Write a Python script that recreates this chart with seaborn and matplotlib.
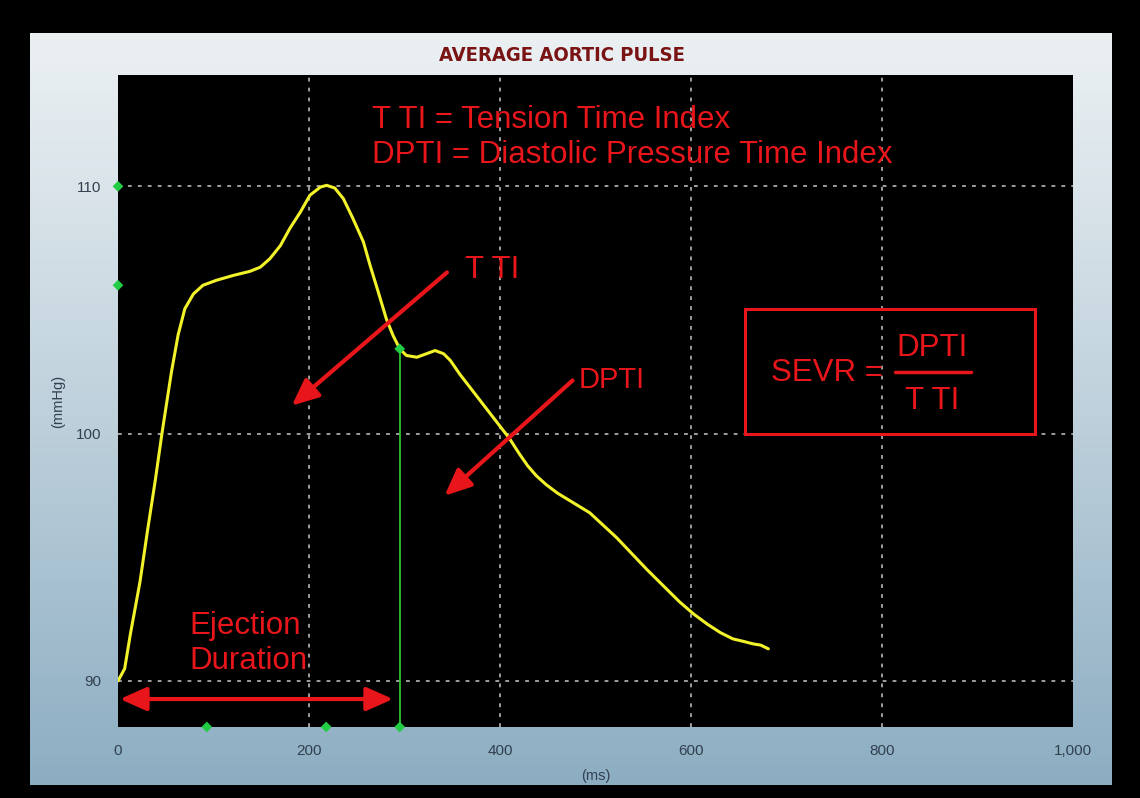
import numpy as np
import pandas as pd
import matplotlib
matplotlib.use('Agg')
import matplotlib.pyplot as plt
from matplotlib.patches import Rectangle
from matplotlib.ticker import FuncFormatter, MultipleLocator
import seaborn as sns

# Average aortic pulse
time_ms = [0, 7, 13, 23, 31, 39, 46, 56, 63, 70, 79, 89, 103, 121, 138, 149,
           159, 170, 180, 191, 201, 212, 218.5, 227, 236, 246, 257, 264,
           272.6, 281, 288, 295, 302, 313, 323, 332, 341, 348, 358, 370, 382,
           396, 410, 420, 429, 438, 448, 460, 477, 494, 508, 522, 538, 554,
           571, 588, 603, 617, 631, 644, 655, 665, 673, 681]
pressure = [90.0, 90.5, 91.9, 94.0, 96.1, 98.1, 100.0, 102.5, 104.0, 105.05,
            105.65, 106.0, 106.2, 106.4, 106.56, 106.73, 107.07, 107.6, 108.3,
            108.96, 109.64, 109.97, 110.04, 109.93, 109.5, 108.7, 107.75,
            106.8, 105.72, 104.64, 103.97, 103.43, 103.16, 103.09, 103.23,
            103.36, 103.23, 102.96, 102.4, 101.8, 101.2, 100.5, 99.8, 99.2,
            98.7, 98.3, 97.95, 97.6, 97.2, 96.8, 96.3, 95.8, 95.15, 94.5,
            93.85, 93.2, 92.7, 92.3, 91.95, 91.7, 91.6, 91.5, 91.45, 91.3]

# green markers on the axes
x_marks = [93, 218, 295]
y_marks = [110, 106]
ejection_end = 295
ejection_end_p = 103.43

x_ticks = [0, 200, 400, 600, 800, 1000]
y_ticks = [90, 100, 110]

RED = '#e8161b'
TICK_COL = '#324050'
Y_BOTTOM = 88.14

sns.set_style('dark')
plt.rcParams['font.family'] = ['Liberation Sans', 'DejaVu Sans']

fig = plt.figure(figsize=(11.4, 7.98), dpi=100, facecolor='black')

# gradient panel behind the plot
bg = fig.add_axes([0.0263, 0.0163, 0.9491, 0.9423], zorder=-2)
grad = np.linspace(0, 1, 256).reshape(-1, 1)
top = np.array([0.92, 0.94, 0.95])
bot = np.array([0.55, 0.68, 0.76])
img = top + (bot - top) * grad[:, :, None] ** 1.1
bg.imshow(img, aspect='auto', extent=[0, 1, 0, 1])
bg.set_axis_off()

ax = fig.add_axes([0.1035, 0.089, 0.8377, 0.817])
ax.set_facecolor('black')

df = pd.DataFrame({'ms': time_ms, 'mmHg': pressure})
sns.lineplot(data=df, x='ms', y='mmHg', ax=ax, color='#f2f22a', linewidth=2.2,
             zorder=4)

# end of ejection
ax.plot([ejection_end, ejection_end], [Y_BOTTOM, ejection_end_p],
        color='#2fc42f', linewidth=1.3, zorder=3)
mk = dict(marker='D', s=30, color='#22cc44', edgecolor='none', zorder=6)
sns.scatterplot(x=x_marks, y=[Y_BOTTOM] * len(x_marks), ax=ax, clip_on=False, **mk)
sns.scatterplot(x=[0] * len(y_marks), y=y_marks, ax=ax, clip_on=False, **mk)
sns.scatterplot(x=[ejection_end], y=[ejection_end_p], ax=ax, **mk)

ax.set_xlim(0, 1000)
ax.set_ylim(Y_BOTTOM, 114.5)
ax.set_xticks(x_ticks)
ax.set_yticks(y_ticks)
ax.xaxis.set_minor_locator(MultipleLocator(100))
ax.yaxis.set_minor_locator(MultipleLocator(5))
ax.xaxis.set_major_formatter(FuncFormatter(lambda v, p: f'{v:,.0f}'))
ax.tick_params(axis='both', which='both', colors='#8a98a4', length=4,
               labelcolor=TICK_COL, labelsize=11, pad=8)
for s in ax.spines.values():
    s.set_visible(False)

# dotted grid
for gx in x_ticks[1:-1]:
    ax.axvline(gx, color='#c8c8c8', linestyle=(0, (2.5, 4)), linewidth=1.1, zorder=1)
for gy in y_ticks:
    ax.axhline(gy, color='#c8c8c8', linestyle=(0, (2.5, 4)), linewidth=1.1, zorder=1)
ax.grid(False)

ax.set_xlabel('(ms)', color=TICK_COL, fontsize=10.5, labelpad=8)
ax.set_ylabel('(mmHg)', color=TICK_COL, fontsize=10.5, labelpad=8)

fig.text(0.493, 0.931, 'AVERAGE AORTIC PULSE', color='#7a1414', fontsize=14.5,
         fontweight='bold', fontstretch='condensed', ha='center', va='center',
         family=['DejaVu Sans'])

# red annotations
fs = 22.5
ax.text(266, 112.67, 'T TI = Tension Time Index', color=RED, fontsize=fs,
        va='center', ha='left', zorder=5)
ax.text(266, 111.26, 'DPTI = Diastolic Pressure Time Index', color=RED,
        fontsize=fs, va='center', ha='left', zorder=5)
ax.text(363, 106.6, 'T TI', color=RED, fontsize=fs, va='center', ha='left', zorder=5)
ax.text(482, 102.15, 'DPTI', color=RED, fontsize=21, va='center', ha='left', zorder=5)
ax.text(75, 92.23, 'Ejection', color=RED, fontsize=fs, va='center', ha='left', zorder=5)
ax.text(75, 90.81, 'Duration', color=RED, fontsize=fs, va='center', ha='left', zorder=5)

head = 'head_length=0.9,head_width=0.4'
arrow_kw = dict(arrowstyle='-|>,' + head, color=RED, lw=3, mutation_scale=18,
                shrinkA=0, shrinkB=0)
ax.annotate('', xy=(182, 101.13), xytext=(344.5, 106.52),
            arrowprops=arrow_kw, zorder=5)
ax.annotate('', xy=(342, 97.49), xytext=(476, 102.15),
            arrowprops=arrow_kw, zorder=5)
ax.annotate('', xy=(2, 89.27), xytext=(288, 89.27),
            arrowprops=dict(arrow_kw, arrowstyle='<|-|>,' + head), zorder=5)

# SEVR box
ax.add_patch(Rectangle((657, 100), 303, 5.05, fill=False, edgecolor=RED,
                       linewidth=2.2, zorder=5))
ax.text(742, 102.47, 'SEVR =', color=RED, fontsize=fs, ha='center',
        va='center', zorder=5)
ax.text(852, 103.48, 'DPTI', color=RED, fontsize=fs, ha='center',
        va='center', zorder=5)
ax.plot([814, 893], [102.51, 102.51], color=RED, linewidth=2.5, zorder=5)
ax.text(852, 101.34, 'T TI', color=RED, fontsize=fs, ha='center',
        va='center', zorder=5)

fig.savefig('out.png', dpi=100, facecolor='black')
